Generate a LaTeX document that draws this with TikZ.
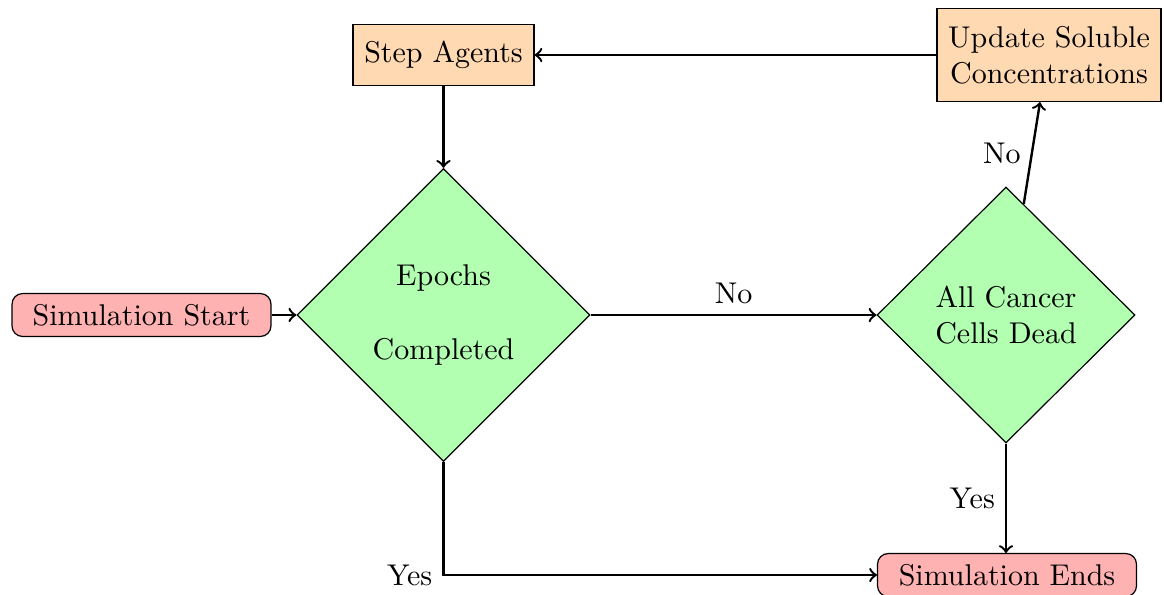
\documentclass[tikz,border=0pt]{standalone}
\usetikzlibrary{shapes.geometric}
\begin{document}
\begin{tikzpicture}[x=0.33333pt,y=-0.33333pt,
  termbox/.style={draw, rounded corners=3.5pt, fill=red!30, minimum width=86.3pt, minimum height=14.3pt, inner sep=0pt},
  procbox/.style={draw, fill=orange!30, inner sep=0pt, align=center},
  decbox/.style={draw, diamond, aspect=1, fill=green!30, inner sep=0pt, align=center},
  flow/.style={->, thick}]
\useasboundingbox (0,0) rectangle (1164,594);
\node[termbox] (start) at (141.5,315) {Simulation Start};
\node[procbox, minimum width=60.3pt, minimum height=20.3pt] (step) at (443.5,55) {Step Agents};
\node[procbox, minimum width=74.7pt, minimum height=31pt] (upd) at (1049,55) {Update Soluble\\Concentrations};
\node[decbox, minimum width=97.7pt, minimum height=97.7pt] (epochs) at (443.5,315) {Epochs\\[12.7pt]Completed};
\node[decbox, minimum width=86pt, minimum height=85.3pt] (dead) at (1006,315) {All Cancer\\Cells Dead};
\node[termbox] (ends) at (1007,575) {Simulation Ends};
\draw[flow] (start) -- (epochs);
\draw[flow] (epochs) -- node[above] {No} (dead);
\draw[flow] (dead) -- node[left] {No} ([xshift=-3pt]upd.south);
\draw[flow] (upd) -- (step);
\draw[flow] (step) -- (epochs);
\draw[flow] (epochs.south) |- node[pos=0.5, left] {Yes} (ends.west);
\draw[flow] (dead.south) -- node[left] {Yes} (dead.south |- ends.north);
\end{tikzpicture}
\end{document}
